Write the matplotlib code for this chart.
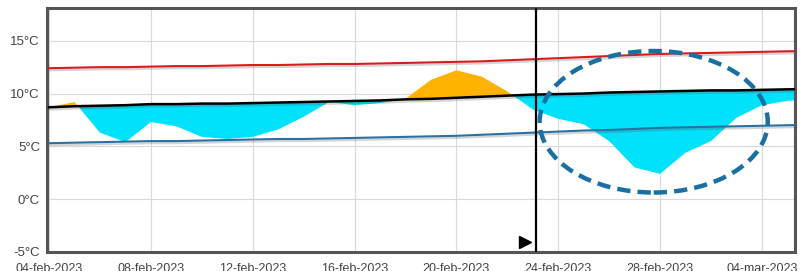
import datetime as dt
import matplotlib
matplotlib.use("Agg")
import matplotlib.pyplot as plt
import matplotlib.dates as mdates
import matplotlib.patheffects as pe
from matplotlib.patches import Ellipse
import numpy as np

start = dt.datetime(2023, 2, 4)
days = [start + dt.timedelta(days=i) for i in range(31)]

temp = [8.7, 9.2, 6.3, 5.4, 7.3, 6.9, 5.9, 5.7, 5.9, 6.6,
        7.8, 9.2, 8.9, 9.1, 9.5, 11.3, 12.2, 11.6, 10.2, 8.5,
        7.6, 7.1, 5.5, 3.0, 2.4, 4.4, 5.5, 7.7, 8.9, 9.3, 9.5]
normal_max = [12.4, 12.45, 12.5, 12.5, 12.55, 12.6, 12.6, 12.65, 12.7, 12.7,
              12.75, 12.8, 12.8, 12.85, 12.9, 12.95, 13.0, 13.05, 13.15, 13.25,
              13.35, 13.45, 13.55, 13.65, 13.75, 13.8, 13.85, 13.9, 13.95, 14.0, 14.05]
normal_mean = [8.7, 8.8, 8.85, 8.9, 9.0, 9.0, 9.05, 9.05, 9.1, 9.15,
               9.2, 9.25, 9.3, 9.35, 9.45, 9.5, 9.6, 9.7, 9.8, 9.9,
               9.95, 10.0, 10.1, 10.15, 10.2, 10.25, 10.3, 10.3, 10.35, 10.4, 10.45]
normal_min = [5.3, 5.35, 5.4, 5.45, 5.5, 5.5, 5.55, 5.6, 5.65, 5.7,
              5.7, 5.75, 5.8, 5.85, 5.9, 5.95, 6.0, 6.1, 6.2, 6.3,
              6.4, 6.5, 6.55, 6.65, 6.75, 6.8, 6.85, 6.9, 6.95, 7.0, 7.05]

tick_labels = ["04-feb-2023", "08-feb-2023", "12-feb-2023", "16-feb-2023",
               "20-feb-2023", "24-feb-2023", "28-feb-2023", "04-mar-2023"]
y_ticks = [-5, 0, 5, 10, 15]
now = dt.datetime(2023, 2, 23, 3)

plt.rcParams['font.family'] = ['Liberation Sans', 'DejaVu Sans']

fig = plt.figure(figsize=(8.02, 2.71), dpi=100)
ax = fig.add_axes([47 / 802, 19 / 271, 748 / 802, 244 / 271])

x = mdates.date2num(days)
t = np.array(temp)
m = np.array(normal_mean)

ax.fill_between(x, t, m, where=t >= m, interpolate=True, color="#ffb300", lw=0, zorder=2)
ax.fill_between(x, t, m, where=t <= m, interpolate=True, color="#00e1fb", lw=0, zorder=2)

shadow = [pe.SimpleLineShadow(offset=(0.8, -1.5), alpha=0.25, shadow_color="#555"), pe.Normal()]
ax.plot(x, normal_max, color="#d81b1b", lw=1.5, zorder=3, path_effects=shadow)
ax.plot(x, normal_min, color="#2a70a0", lw=1.5, zorder=3, path_effects=shadow)
ax.plot(x, normal_mean, color="black", lw=1.8, zorder=4, path_effects=shadow)

ax.axvline(mdates.date2num(now), color="black", lw=1.6, zorder=5)
ax.plot(mdates.date2num(now) - 0.42, -4.05, marker=">", color="black",
        markersize=9, zorder=5)

ell = Ellipse((mdates.date2num(dt.datetime(2023, 2, 27, 18)), 7.33),
              width=8.96, height=13.4, fill=False, edgecolor="#1a6fa3",
              lw=3.2, linestyle=(0, (3, 1.6)), zorder=6)
ax.add_patch(ell)

ax.set_xlim(mdates.date2num(start) - 0.08, mdates.date2num(start) + 29.3)
ax.set_ylim(-5, 18.1)

ax.set_xticks([mdates.date2num(start + dt.timedelta(days=4 * i)) for i in range(len(tick_labels))])
ax.set_xticklabels(tick_labels)
ax.set_yticks(y_ticks)
ax.set_yticklabels([f"{v}°C" for v in y_ticks])
ax.tick_params(length=0, labelcolor="#444444")
ax.tick_params(axis="x", pad=8, labelsize=9)
ax.tick_params(axis="y", pad=5, labelsize=9.5)
ax.grid(True, color="#d9d9d9", lw=0.8, zorder=0)
ax.set_axisbelow(True)
for s in ax.spines.values():
    s.set_color("#555555")
    s.set_linewidth(2.2)

fig.savefig("out.png", dpi=100)
